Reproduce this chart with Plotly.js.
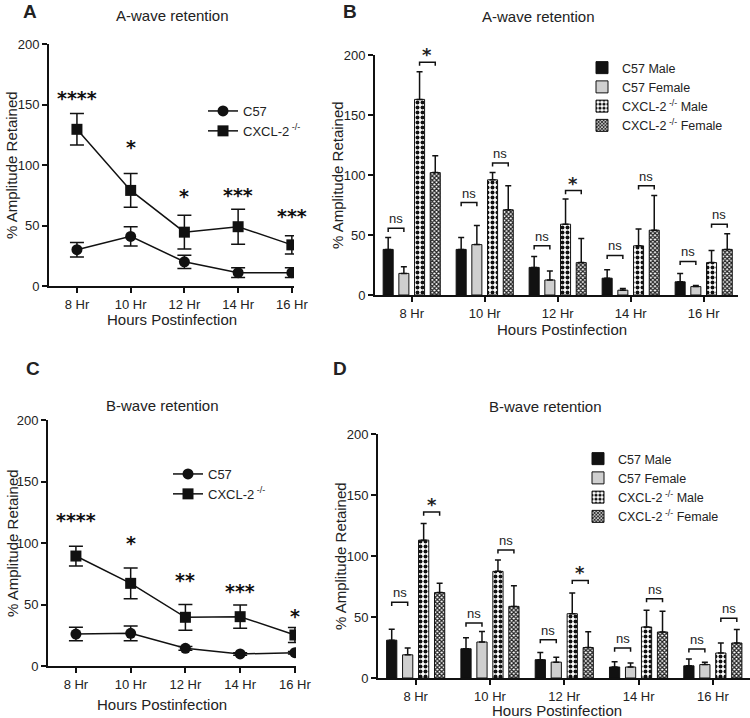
<!DOCTYPE html>
<html>
<head>
<meta charset="utf-8">
<script src="https://cdn.plot.ly/plotly-3.0.1.min.js"></script>
<style>
  body { margin: 0; background: #fff; }
  #chart { width: 750px; height: 718px; }
</style>
</head>
<body>
<div id="chart"></div>
<script>
// hours postinfection, shared by all four panels
var hours = ['8 Hr', '10 Hr', '12 Hr', '14 Hr', '16 Hr'];

// panel A, a-wave, strain means
var aC57 = [30, 41, 20, 11, 11];
var aC57Err = [6, 8, 5.5, 4, 4];
var aCxcl = [129.5, 79, 44.5, 49, 34];
var aCxclErr = [13, 14, 14, 14.5, 7.5];
var aSig = ['****', '*', '*', '***', '***'];
var aSigY = [156, 116, 75, 76, 59];

// panel B, a-wave split by sex
var bC57M = [38, 38, 23, 14, 11];
var bC57MErr = [10, 10, 9, 7, 7];
var bC57F = [18, 42, 12.5, 4, 7];
var bC57FErr = [5.5, 16, 7.5, 1.5, 1];
var bCxM = [163, 96, 59, 41, 27];
var bCxMErr = [23, 6, 21, 14, 10];
var bCxF = [102, 71, 27, 54, 38];
var bCxFErr = [14, 20, 20, 29, 13];
var bLeftY = [55.6, 77, 41, 33, 28];
var bRightY = [194, 110, 87, 91, 59];
var bRightTxt = ['*', 'ns', '*', 'ns', 'ns'];

// panel C, b-wave, strain means
var cC57 = [26, 26.6, 14.4, 9.8, 10.8];
var cC57Err = [5.5, 6, 1.5, 1, 1];
var cCxcl = [89.4, 67.2, 39.6, 40.1, 25.2];
var cCxclErr = [8, 12.5, 10.5, 9.5, 6];
var cSig = ['****', '*', '**', '***', '*'];
var cSigY = [119.5, 101, 71, 62, 41.5];

// panel D, b-wave split by sex
var dC57M = [31, 24, 15, 9, 10];
var dC57MErr = [9, 9, 6, 4.4, 5.5];
var dC57F = [19, 29.5, 13, 9, 11];
var dC57FErr = [5.5, 8.7, 4, 3.3, 2];
var dCxM = [113, 87.4, 52.7, 41.8, 20.5];
var dCxMErr = [13.7, 9.3, 17, 13.7, 8.2];
var dCxF = [70, 58.7, 25, 37.7, 28.7];
var dCxFErr = [7.7, 17, 13, 17, 11];
var dLeftY = [62, 45, 31.4, 24.6, 23.8];
var dRightY = [136, 105, 80, 65, 49];
var dRightTxt = ['*', 'ns', '*', 'ns', 'ns'];

var FONT = 'Liberation Sans, Arial, sans-serif';
var W = 750, H = 718;
var BARGAP = 0.14;
var SLOT = (1 - BARGAP) / 4;
var xi = [0, 1, 2, 3, 4];
var KO = 'CXCL-2<sup> -/-</sup>';

function px(x) { return x / W; }
function py(y) { return 1 - y / H; }

function zeros(n) { var a = []; for (var i = 0; i < n; i++) a.push(0); return a; }

function lineTrace(name, ys, errs, symbol, xa, ya, leg) {
    return {
        x: xi, y: ys, name: name, type: 'scatter', mode: 'lines+markers',
        xaxis: xa, yaxis: ya, legend: leg,
        line: { color: '#111', width: 1.5 },
        marker: { symbol: symbol, size: 11, color: '#111' },
        error_y: { type: 'data', array: errs, color: '#111', thickness: 1.5, width: 7 }
    };
}

function barTrace(name, ys, errs, style, xa, ya, leg) {
    var t = {
        x: xi, y: ys, name: name, type: 'bar', xaxis: xa, yaxis: ya, legend: leg,
        marker: { color: style.color, line: { color: '#111', width: 1 } },
        error_y: { type: 'data', symmetric: false, array: errs, arrayminus: zeros(errs.length),
                   color: '#111', thickness: 1.5, width: 3 }
    };
    if (style.pattern) t.marker.pattern = style.pattern;
    return t;
}

var styles = [
    { color: '#111' },
    { color: '#cfcfcf' },
    { color: '#111', pattern: { shape: '.', size: 5, solidity: 0.5, fgcolor: '#111', bgcolor: '#fff' } },
    { color: '#111', pattern: { shape: 'x', size: 3, solidity: 0.65, fgcolor: '#222', bgcolor: '#fff' } }
];
var barNames = ['C57 Male', 'C57 Female', KO + ' Male', KO + ' Female'];

var data = [
    lineTrace('C57', aC57, aC57Err, 'circle', 'x', 'y', 'legend'),
    lineTrace(KO, aCxcl, aCxclErr, 'square', 'x', 'y', 'legend'),
    lineTrace('C57', cC57, cC57Err, 'circle', 'x3', 'y3', 'legend3'),
    lineTrace(KO, cCxcl, cCxclErr, 'square', 'x3', 'y3', 'legend3')
];
var bSets = [[bC57M, bC57MErr], [bC57F, bC57FErr], [bCxM, bCxMErr], [bCxF, bCxFErr]];
var dSets = [[dC57M, dC57MErr], [dC57F, dC57FErr], [dCxM, dCxMErr], [dCxF, dCxFErr]];
bSets.forEach(function (s, i) { data.push(barTrace(barNames[i], s[0], s[1], styles[i], 'x2', 'y2', 'legend2')); });
dSets.forEach(function (s, i) { data.push(barTrace(barNames[i], s[0], s[1], styles[i], 'x4', 'y4', 'legend4')); });

function xAxis(dom, range, anchor) {
    return {
        domain: dom, range: range, anchor: anchor, tickvals: xi, ticktext: hours,
        showline: true, linecolor: '#111', linewidth: 2, ticks: 'outside', ticklen: 5,
        tickwidth: 2, tickcolor: '#111', showgrid: false, zeroline: false, fixedrange: true,
        tickfont: { family: FONT, size: 13, color: '#222' }
    };
}
function yAxis(dom, anchor) {
    return {
        domain: dom, range: [0, 200], anchor: anchor, tickvals: [0, 50, 100, 150, 200],
        showline: true, linecolor: '#111', linewidth: 2, ticks: 'outside', ticklen: 5,
        tickwidth: 2, tickcolor: '#111', showgrid: false, zeroline: false, fixedrange: true,
        tickfont: { family: FONT, size: 13, color: '#222' }
    };
}
function legendAt(x, y, size) {
    return { x: px(x), y: py(y), xanchor: 'left', yanchor: 'top', bgcolor: 'rgba(0,0,0,0)',
             font: { family: FONT, size: size, color: '#222' }, traceorder: 'normal' };
}

var annotations = [];
function ann(text, x, y, size, extra) {
    var a = { text: text, x: px(x), y: py(y), xref: 'paper', yref: 'paper', showarrow: false,
              xanchor: 'center', yanchor: 'middle',
              font: { family: FONT, size: size, color: '#222' } };
    for (var k in extra) a[k] = extra[k];
    annotations.push(a);
}

// panel letters
ann('<b>A</b>', 30, 12, 19);
ann('<b>B</b>', 350, 12, 19);
ann('<b>C</b>', 33, 368, 19);
ann('<b>D</b>', 340, 368, 19);
// panel titles
ann('A-wave retention', 172, 16, 15);
ann('A-wave retention', 538, 17, 15);
ann('B-wave retention', 162, 405, 15);
ann('B-wave retention', 545, 406, 15);
// axis titles
ann('% Amplitude Retained', 12, 165, 15, { textangle: -90 });
ann('% Amplitude Retained', 337, 175, 15, { textangle: -90 });
ann('% Amplitude Retained', 12, 543, 15, { textangle: -90 });
ann('% Amplitude Retained', 340, 556, 15, { textangle: -90 });
ann('Hours Postinfection', 172, 320, 15);
ann('Hours Postinfection', 562, 330, 15);
ann('Hours Postinfection', 162, 704, 15);
ann('Hours Postinfection', 557, 710, 15);

// significance stars over the line panels
function stars(labels, ys, xa, ya) {
    labels.forEach(function (s, i) {
        annotations.push({ text: '<b>' + s + '</b>', x: i, y: ys[i], xref: xa, yref: ya,
            showarrow: false, yshift: -1, font: { family: 'DejaVu Sans', size: 19, color: '#111' } });
    });
}
stars(aSig, aSigY, 'x', 'y');
stars(cSig, cSigY, 'x3', 'y3');

// brackets between bar pairs
var shapes = [];
function bracket(xa, ya, x0, x1, y, label, drop) {
    shapes.push({ type: 'path', xref: xa, yref: ya,
        path: 'M' + x0 + ',' + (y - drop) + 'L' + x0 + ',' + y + 'L' + x1 + ',' + y + 'L' + x1 + ',' + (y - drop),
        line: { color: '#111', width: 1.5 } });
    var star = label === '*';
    annotations.push({ text: star ? '<b>*</b>' : label, x: (x0 + x1) / 2, y: y, xref: xa, yref: ya,
        yanchor: 'bottom', showarrow: false, yshift: star ? -5 : 0,
        font: { family: star ? 'DejaVu Sans' : FONT, size: star ? 18 : 13, color: '#222' } });
}
function brackets(leftY, rightY, rightTxt, xa, ya) {
    for (var i = 0; i < leftY.length; i++) {
        bracket(xa, ya, i - 1.5 * SLOT, i - 0.5 * SLOT, leftY[i], 'ns', 3);
        bracket(xa, ya, i + 0.5 * SLOT, i + 1.5 * SLOT, rightY[i], rightTxt[i], 3);
    }
}
brackets(bLeftY, bRightY, bRightTxt, 'x2', 'y2');
brackets(dLeftY, dRightY, dRightTxt, 'x4', 'y4');

var layout = {
    width: W, height: H, margin: { l: 0, r: 0, t: 0, b: 0 },
    paper_bgcolor: '#fff', plot_bgcolor: '#fff',
    font: { family: FONT, color: '#222' },
    barmode: 'group', bargap: BARGAP, bargroupgap: 0.36,
    xaxis: xAxis([px(49), px(294)], [-0.52, 4.04], 'y'),
    yaxis: yAxis([py(286), py(44)], 'x'),
    xaxis2: xAxis([px(375), px(738)], [-0.503, 4.47], 'y2'),
    yaxis2: yAxis([py(295), py(55)], 'x2'),
    xaxis3: xAxis([px(48), px(296)], [-0.51, 4.02], 'y3'),
    yaxis3: yAxis([py(666), py(420)], 'x3'),
    xaxis4: xAxis([px(378), px(750)], [-0.507, 4.5], 'y4'),
    yaxis4: yAxis([py(678), py(434)], 'x4'),
    legend: legendAt(203, 96, 13),
    legend2: legendAt(582, 53, 12.5),
    legend3: legendAt(168, 459, 13),
    legend4: legendAt(578, 444, 12.5),
    annotations: annotations,
    shapes: shapes
};

Plotly.newPlot('chart', data, layout, { displayModeBar: false, staticPlot: true });
</script>
</body>
</html>
